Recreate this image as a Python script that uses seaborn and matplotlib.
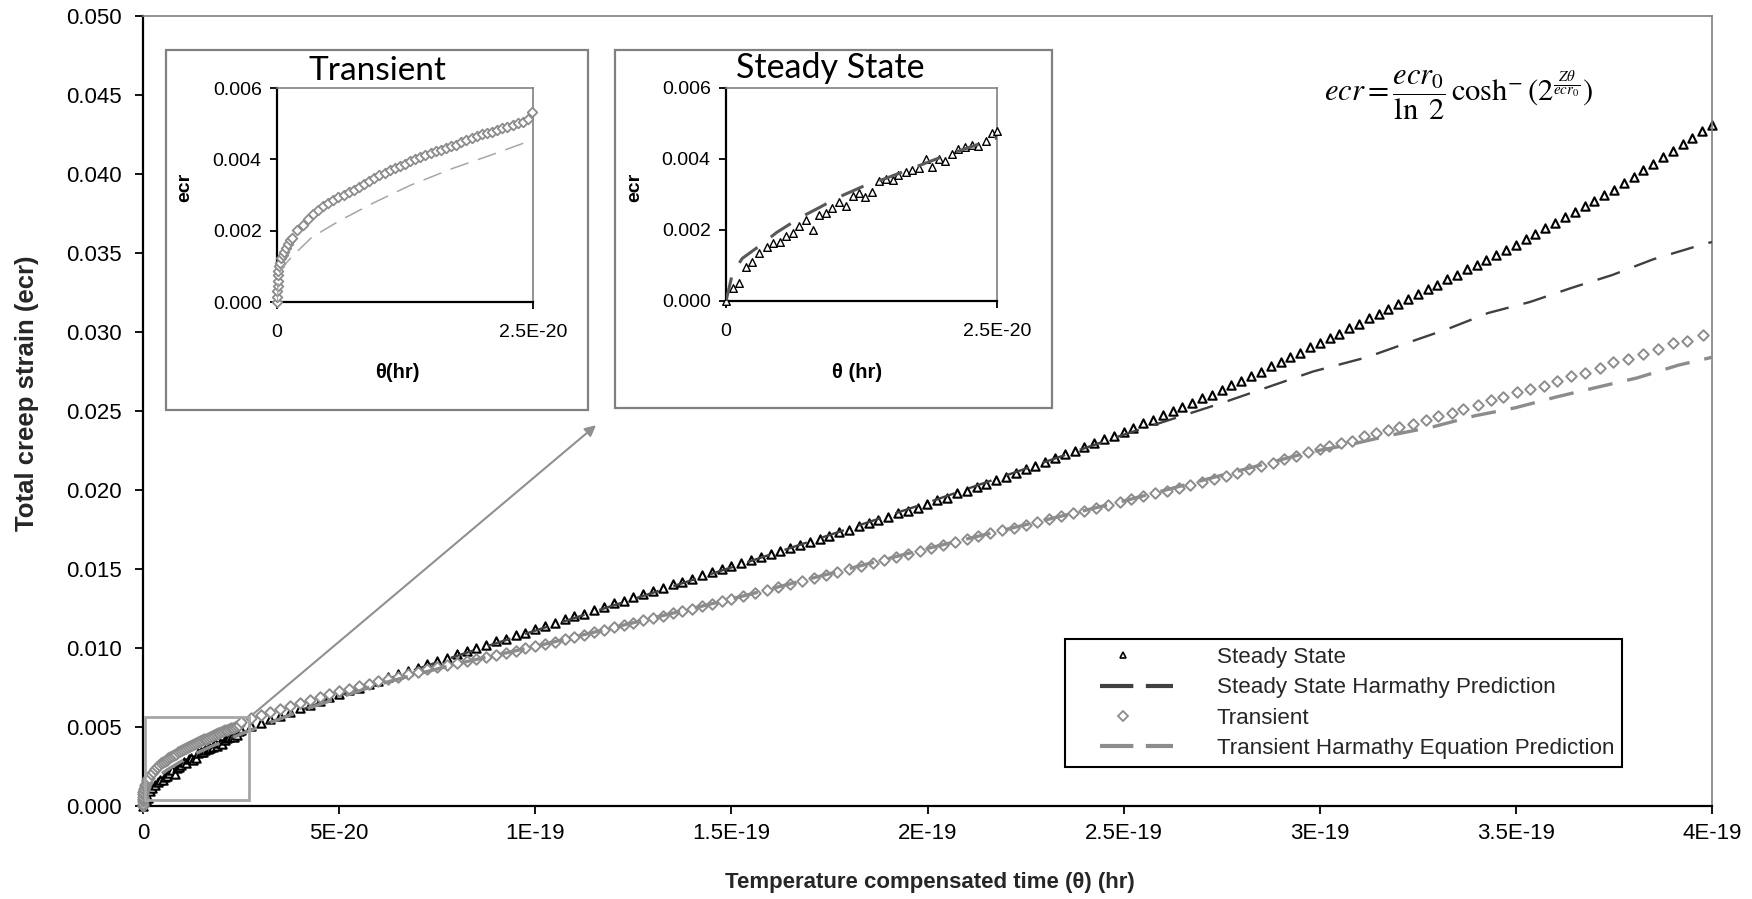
import numpy as np
import pandas as pd
import matplotlib
matplotlib.use("Agg")
import matplotlib.pyplot as plt
import matplotlib.ticker as mticker
from matplotlib.patches import Rectangle
from matplotlib.lines import Line2D
from matplotlib.legend_handler import HandlerLine2D
import seaborn as sns

sns.set_theme(style="ticks")
plt.rcParams['font.family'] = ['Liberation Sans', 'DejaVu Sans']
plt.rcParams['mathtext.fontset'] = 'stix'

THETA_UNIT = 1e-21   # values below are in 1e-21 hr
STRAIN_UNIT = 1e-3   # values below are in 1e-3 strain

# ---------------- data ----------------
steady_theta = [0, 0.68, 1.23, 1.84, 2.36, 3.07, 3.75, 4.30, 4.98, 5.50, 6.14, 6.70, 7.37, 8.05,
                8.57, 9.21, 9.77, 10.44, 11.06, 11.67, 12.29, 12.84, 13.51, 14.07, 14.74, 15.36,
                15.91, 16.58, 17.14, 17.81, 18.43, 18.98, 19.66, 20.21, 20.82, 21.44, 22.05, 22.73,
                23.28, 23.96, 24.51,
                25, 27.5, 30, 32.5, 35, 37.5, 40, 42.5, 45, 47.5, 50, 52.5, 55, 57.5, 60, 62.5, 65,
                67.5, 70, 72.5, 75, 77.5, 80, 82.5, 85, 87.5, 90, 92.5, 95, 97.5, 100, 102.5, 105,
                107.5, 110, 112.5, 115, 117.5, 120, 122.5, 125, 127.5, 130, 132.5, 135, 137.5, 140,
                142.5, 145, 147.5, 150, 152.5, 155, 157.5, 160, 162.5, 165, 167.5, 170, 172.5, 175,
                177.5, 180, 182.5, 185, 187.5, 190, 192.5, 195, 197.5, 200, 202.5, 205, 207.5, 210,
                212.5, 215, 217.5, 220, 222.5, 225, 227.5, 230, 232.5, 235, 237.5, 240, 242.5, 245,
                247.5, 250, 252.5, 255, 257.5, 260, 262.5, 265, 267.5, 270, 272.5, 275, 277.5, 280,
                282.5, 285, 287.5, 290, 292.5, 295, 297.5, 300, 302.5, 305, 307.5, 310, 312.5, 315,
                317.5, 320, 322.5, 325, 327.5, 330, 332.5, 335, 337.5, 340, 342.5, 345, 347.5, 350,
                352.5, 355, 357.5, 360, 362.5, 365, 367.5, 370, 372.5, 375, 377.5, 380, 382.5, 385,
                387.5, 390, 392.5, 395, 397.5, 400]
steady_ecr = [0, 0.36, 0.50, 0.97, 1.11, 1.34, 1.51, 1.63, 1.67, 1.83, 1.91, 2.10, 2.27, 2.00,
              2.43, 2.47, 2.62, 2.78, 2.69, 2.96, 3.04, 2.94, 3.06, 3.37, 3.43, 3.41,
              3.56, 3.62, 3.68, 3.74, 4.00, 3.77, 4.00, 3.93, 4.15, 4.28, 4.34, 4.40,
              4.36, 4.52, 4.73,
              4.80, 5.05, 5.25, 5.50, 5.72, 5.93, 6.20, 6.40, 6.62, 6.88,
              7.10, 7.33, 7.50, 7.74, 7.92, 8.15, 8.33, 8.55, 8.76, 8.97,
              9.20, 9.38, 9.62, 9.80, 10.02, 10.18, 10.42, 10.58, 10.82, 10.98,
              11.20, 11.42, 11.58, 11.82, 12.00, 12.18, 12.42, 12.58, 12.82, 12.98,
              13.20, 13.40, 13.62, 13.78, 14.02, 14.20, 14.38, 14.62, 14.80, 14.98,
              15.20, 15.38, 15.60, 15.75, 15.98, 16.15, 16.35, 16.52, 16.74, 16.90,
              17.10, 17.32, 17.48, 17.72, 17.88, 18.12, 18.28, 18.52, 18.70, 18.88,
              19.10, 19.34, 19.52, 19.78, 19.96, 20.20, 20.40, 20.64, 20.84, 21.06,
              21.30, 21.52, 21.80, 22.00, 22.26, 22.48, 22.74, 22.96, 23.22, 23.44,
              23.70, 23.94, 24.24, 24.46, 24.74, 24.98, 25.28, 25.50, 25.80, 26.04,
              26.30, 26.62, 26.88, 27.22, 27.48, 27.82, 28.08, 28.42, 28.68, 29.02,
              29.30, 29.62, 29.90, 30.24, 30.52, 30.86, 31.14, 31.48, 31.76, 32.10,
              32.40, 32.72, 33.00, 33.34, 33.62, 33.96, 34.24, 34.58, 34.86, 35.20,
              35.50, 35.86, 36.18, 36.56, 36.88, 37.26, 37.58, 37.96, 38.28, 38.66,
              39.00, 39.42, 39.80, 40.24, 40.62, 41.06, 41.44, 41.88, 42.26, 42.70,
              43.10]

steady_pred_theta = [0, 0.6, 1.5, 3.3, 4.67, 6.9, 8.35, 10.5, 12.65, 14.8, 20.0, 25.4, 50, 75, 100,
                     150, 200, 250, 275, 298.3, 312.0, 322.2, 332.7, 342.9, 353.6, 364.3, 374.5,
                     385.0, 395.7, 400]
steady_pred_ecr = [0, 0.78, 1.20, 1.60, 1.93, 2.36, 2.59, 2.94, 3.23, 3.46, 4.07, 4.64, 7.00, 9.10,
                   11.10, 15.10, 19.20, 23.50, 25.50, 27.50, 28.40, 29.30, 30.20, 31.20, 31.90,
                   32.80, 33.60, 34.60, 35.40, 35.70]

transient_theta = [0, 0.02, 0.04, 0.05, 0.07, 0.09, 0.12, 0.16, 0.25, 0.40, 0.55, 0.70, 0.90, 1.10,
                   1.30, 1.5, 2.0, 2.5, 3.0, 3.5, 4.0, 4.5, 5.0, 5.5, 6.0, 6.5, 7.0, 7.5, 8.0, 8.5,
                   9.0, 9.5, 10.0, 10.5, 11.0, 11.5, 12.0, 12.5, 13.0, 13.5, 14.0, 14.5, 15.0, 15.5,
                   16.0, 16.5, 17.0, 17.5, 18.0, 18.5, 19.0, 19.5, 20.0, 20.5, 21.0, 21.5, 22.0,
                   22.5, 23.0, 23.5, 24.0, 24.5, 24.9,
                   27.5, 30, 32.5, 35, 37.5, 40, 42.5, 45, 47.5, 50, 52.5, 55, 57.5, 60, 62.5, 65,
                   67.5, 70, 72.5, 75, 77.5, 80, 82.5, 85, 87.5, 90, 92.5, 95, 97.5, 100, 102.5, 105,
                   107.5, 110, 112.5, 115, 117.5, 120, 122.5, 125, 127.5, 130, 132.5, 135, 137.5,
                   140, 142.5, 145, 147.5, 150, 153, 156, 159, 162, 165, 168, 171, 174, 177, 180,
                   183, 186, 189, 192, 195, 198, 201, 204, 207, 210, 213, 216, 219, 222, 225, 228,
                   231, 234, 237, 240, 243, 246, 249, 252, 255, 258, 261, 264, 267, 270, 273, 276,
                   279, 282, 285, 288, 291, 294, 297, 300, 302.4, 305.4, 308.2, 311.3, 314.4, 317.4,
                   320.2, 323.7, 327.1, 330.1, 333.7, 336.5, 340.3, 343.6, 346.7, 350.2, 353.6,
                   357.1, 360.5, 364.0, 367.6, 371.4, 374.8, 378.6, 382.4, 386.2, 390.0, 393.6,
                   397.7]
transient_ecr = [0, 0.15, 0.30, 0.45, 0.60, 0.75, 0.88, 1.00, 1.10, 1.22, 1.32, 1.40, 1.52, 1.63,
                 1.75, 1.80, 2.03, 2.17, 2.33, 2.46, 2.58, 2.69, 2.78, 2.87, 2.93, 3.01, 3.08, 3.15,
                 3.22, 3.30, 3.40, 3.48, 3.55, 3.62, 3.69, 3.75, 3.81, 3.87, 3.94, 4.00, 4.06, 4.12,
                 4.17, 4.22, 4.27, 4.31, 4.36, 4.41, 4.48, 4.55, 4.60, 4.65, 4.70, 4.73, 4.78, 4.82,
                 4.87, 4.91, 4.96, 5.01, 5.06, 5.12, 5.32,
                 5.56, 5.78, 5.98, 6.17, 6.36, 6.54, 6.72, 6.90, 7.08, 7.25,
                 7.41, 7.57, 7.73, 7.88, 8.04, 8.19, 8.34, 8.50, 8.65, 8.80,
                 8.93, 9.06, 9.19, 9.32, 9.45, 9.58, 9.71, 9.84, 9.97, 10.10,
                 10.25, 10.40, 10.55, 10.70, 10.85, 11.00, 11.15, 11.30, 11.45, 11.60,
                 11.75, 11.90, 12.05, 12.20, 12.35, 12.50, 12.65, 12.80, 12.95, 13.10,
                 13.29, 13.48, 13.68, 13.87, 14.06, 14.25, 14.44, 14.63,
                 14.83, 15.02, 15.21, 15.40, 15.60, 15.79, 15.98, 16.17,
                 16.36, 16.54, 16.72, 16.90, 17.08, 17.26, 17.44, 17.62, 17.80,
                 17.98, 18.16, 18.34, 18.52, 18.70, 18.88, 19.06, 19.24,
                 19.42, 19.60, 19.78, 19.96, 20.14, 20.32, 20.50, 20.68,
                 20.87, 21.08, 21.30, 21.52, 21.74, 21.96, 22.18, 22.40, 22.62,
                 22.8, 23.0, 23.1, 23.4, 23.6, 23.8, 24.0, 24.2, 24.4, 24.7, 24.9, 25.1, 25.4,
                 25.7, 25.9, 26.2, 26.4, 26.6, 26.9, 27.2, 27.4, 27.7, 28.1, 28.3, 28.6, 28.9,
                 29.3, 29.4, 29.8]

transient_pred_theta = [0, 0.1, 0.3, 0.98, 1.63, 3.42, 6.18, 9.44, 13.0, 17.1, 21.0, 24.8, 40, 60,
                        80, 100, 150, 200, 250, 297.5, 308.2, 318.7, 328.9, 339.6, 349.8, 360.5,
                        370.7, 381.0, 391.4, 400]
transient_pred_ecr = [0, 0.55, 0.85, 1.12, 1.32, 1.82, 2.29, 2.78, 3.27, 3.74, 4.13, 4.53, 6.00,
                      7.70, 9.00, 10.10, 13.10, 16.30, 19.30, 22.40, 22.90, 23.50, 24.00, 24.70,
                      25.20, 25.90, 26.50, 27.10, 27.90, 28.40]

main_xticks = [0, 5e-20, 1e-19, 1.5e-19, 2e-19, 2.5e-19, 3e-19, 3.5e-19, 4e-19]
main_xticklabels = ["0", "5E-20", "1E-19", "1.5E-19", "2E-19", "2.5E-19", "3E-19", "3.5E-19", "4E-19"]
main_yticks = [0, 0.005, 0.010, 0.015, 0.020, 0.025, 0.030, 0.035, 0.040, 0.045, 0.050]
inset_xticks = [0, 2.5e-20]
inset_xticklabels = ["0", "2.5E-20"]
inset_yticks = [0, 0.002, 0.004, 0.006]

legend_labels = ["Steady State", "Steady State Harmathy Prediction", "Transient",
                 "Transient Harmathy Equation Prediction"]


def frame(theta, ecr):
    return pd.DataFrame({"theta": np.asarray(theta) * THETA_UNIT,
                         "ecr": np.asarray(ecr) * STRAIN_UNIT})


ss = frame(steady_theta, steady_ecr)
ssp = frame(steady_pred_theta, steady_pred_ecr)
tr = frame(transient_theta, transient_ecr)
trp = frame(transient_pred_theta, transient_pred_ecr)

BLACK = "#000000"
DARK = "#404040"
GREY = "#8c8c8c"
W, H = 1752, 899

fig = plt.figure(figsize=(W / 100, H / 100), dpi=100, facecolor="white")


def fx(px):
    return px / W


def fy(py):
    return 1 - py / H


# ---------------- main axes ----------------
ax = fig.add_axes([fx(143), fy(806), (1712 - 143) / W, (806 - 16) / H], zorder=0)
ax.set_facecolor("white")

sns.scatterplot(data=ss, x="theta", y="ecr", marker="^", s=36, facecolor="white",
                edgecolor=BLACK, linewidth=1.5, ax=ax, zorder=2, clip_on=False, legend=False)
sns.lineplot(data=ssp, x="theta", y="ecr", color=DARK, linewidth=1.7,
             linestyle=(0, (10, 6.5)), sort=False, estimator=None, ax=ax, zorder=3, legend=False)
sns.scatterplot(data=tr, x="theta", y="ecr", marker="D", s=29, facecolor="white",
                edgecolor=GREY, linewidth=1.4, ax=ax, zorder=4, clip_on=False, legend=False)
sns.lineplot(data=trp, x="theta", y="ecr", color=GREY, linewidth=2.4,
             linestyle=(0, (7.5, 4.5)), sort=False, estimator=None, ax=ax, zorder=5, legend=False)

ax.set_xlim(0, 4e-19)
ax.set_ylim(0, 0.05)
ax.set_xticks(main_xticks)
ax.set_xticklabels(main_xticklabels)
ax.set_yticks(main_yticks)
ax.yaxis.set_major_formatter(mticker.FormatStrFormatter("%.3f"))
ax.tick_params(axis="both", which="major", direction="out", length=6, width=1.3,
               color=BLACK, labelsize=16, labelcolor=BLACK)
ax.tick_params(axis="x", pad=6)
ax.tick_params(axis="y", pad=9)
for side in ["left", "bottom"]:
    ax.spines[side].set_color(BLACK)
    ax.spines[side].set_linewidth(1.6)
for side in ["top", "right"]:
    ax.spines[side].set_color("#808080")
    ax.spines[side].set_linewidth(1.2)

ax.set_xlabel("Temperature compensated time (θ) (hr)", fontsize=16, fontweight="bold")
ax.set_ylabel("Total creep strain (ecr)", fontsize=18.5, fontweight="bold")
ax.xaxis.set_label_coords(0.5016, -0.083)
ax.yaxis.set_label_coords(-0.0665, 0.522)

# zoom rectangle and arrow
ax.add_patch(Rectangle((5e-22, 0.00038), 2.65e-20, 0.00525, fill=False,
                       edgecolor="#a6a6a6", linewidth=2.0, zorder=6, clip_on=False))
ax.annotate("", xy=(1.155e-19, 0.0241), xytext=(2.8e-20, 0.0058),
            arrowprops=dict(arrowstyle="-|>", color="#909090", lw=1.5, mutation_scale=16,
                            shrinkA=0, shrinkB=0),
            zorder=6)

h_ss = Line2D([], [], marker="^", ls="none", mfc="white", mec=BLACK, ms=5, mew=1.2)
h_ssp = Line2D([], [], color=DARK, lw=3, ls=(0, (8, 3)))
h_tr = Line2D([], [], marker="D", ls="none", mfc="white", mec=GREY, ms=5.5, mew=1.3)
h_trp = Line2D([], [], color=GREY, lw=3, ls=(0, (8, 3)))
leg = ax.legend(handles=[h_ss, h_ssp, h_tr, h_trp], labels=legend_labels, loc="upper left",
                bbox_to_anchor=(0.5876, 0.2111), borderaxespad=0, frameon=True,
                fancybox=False, edgecolor=BLACK, framealpha=1, fontsize=16.1,
                handlelength=4.5, handletextpad=1.95, labelspacing=0.42, borderpad=0.35,
                handler_map={h_ss: HandlerLine2D(xpad=0.0), h_tr: HandlerLine2D(xpad=0.0),
                             h_ssp: HandlerLine2D(xpad=1.2), h_trp: HandlerLine2D(xpad=1.2)})
leg.get_frame().set_linewidth(1.5)

# equation
fig.text(fx(1458), fy(95), r"$ecr=\dfrac{ecr_0}{\ln\ 2}\,\cosh^{-}(2^{\frac{Z\theta}{ecr_0}})$",
         ha="center", va="center", fontsize=22, color=BLACK)

# ---------------- insets ----------------
for (l, t, r, b) in [(166, 50, 588, 410), (615, 50, 1052, 408)]:
    fig.add_artist(Rectangle((fx(l), fy(b)), (r - l) / W, (b - t) / H,
                             transform=fig.transFigure, facecolor="white",
                             edgecolor="#808080", linewidth=1.6, zorder=4))


def style_inset(a):
    a.set_facecolor("white")
    a.set_xlim(0, 2.5e-20)
    a.set_ylim(0, 0.006)
    a.set_xticks(inset_xticks)
    a.set_xticklabels(inset_xticklabels)
    a.set_yticks(inset_yticks)
    a.yaxis.set_major_formatter(mticker.FormatStrFormatter("%.3f"))
    a.tick_params(axis="both", direction="out", length=5, width=1.3, labelsize=14,
                  color=BLACK, labelcolor=BLACK)
    a.tick_params(axis="x", pad=11)
    a.tick_params(axis="y", pad=6)
    for side in ["left", "bottom"]:
        a.spines[side].set_color(BLACK)
        a.spines[side].set_linewidth(1.6)
    for side in ["top", "right"]:
        a.spines[side].set_color("#808080")
        a.spines[side].set_linewidth(1.2)
    a.set_xlabel("")
    a.set_ylabel("")


ins1 = fig.add_axes([fx(277), fy(302), (533 - 277) / W, (302 - 88) / H], zorder=5)
tr_in = tr[tr["theta"] <= 2.5e-20]
trp_in = trp[trp["theta"] <= 2.6e-20]
sns.scatterplot(data=tr_in, x="theta", y="ecr", marker="D", s=24, facecolor="white",
                edgecolor=GREY, linewidth=1.3, ax=ins1, zorder=3, clip_on=False, legend=False)
sns.lineplot(data=trp_in, x="theta", y="ecr", color="#a6a6a6", linewidth=1.1,
             linestyle=(0, (12.5, 6.5)), sort=False, estimator=None, ax=ins1, zorder=4, legend=False)
style_inset(ins1)

ins2 = fig.add_axes([fx(726), fy(301), (997 - 726) / W, (301 - 88) / H], zorder=5)
ss_in = ss[ss["theta"] <= 2.5e-20]
ssp_in = ssp[ssp["theta"] <= 2.6e-20]
sns.scatterplot(data=ss_in, x="theta", y="ecr", marker="^", s=30, facecolor="white",
                edgecolor=BLACK, linewidth=1.0, ax=ins2, zorder=3, clip_on=False, legend=False)
sns.lineplot(data=ssp_in, x="theta", y="ecr", color="#595959", linewidth=2.2,
             linestyle=(0, (7.9, 5.5)), sort=False, estimator=None, ax=ins2, zorder=4, legend=False)
style_inset(ins2)

title_font = ["Lato", "DejaVu Sans"]
ins1.text(fx(377), fy(71), "Transient", transform=fig.transFigure, ha="center", va="center",
          fontsize=24, family=title_font, color=BLACK)
ins2.text(fx(830), fy(68), "Steady State", transform=fig.transFigure, ha="center", va="center",
          fontsize=24.5, family=title_font, color=BLACK)
ins1.text(fx(185), fy(187), "ecr", transform=fig.transFigure, ha="center", va="center",
          rotation=90, fontsize=14, fontweight="bold", color=BLACK)
ins2.text(fx(635), fy(187), "ecr", transform=fig.transFigure, ha="center", va="center",
          rotation=90, fontsize=14, fontweight="bold", color=BLACK)
ins1.text(fx(397), fy(373), "θ(hr)", transform=fig.transFigure, ha="center", va="center",
          fontsize=14.5, fontweight="bold", color=BLACK)
ins2.text(fx(857), fy(372), "θ (hr)", transform=fig.transFigure, ha="center", va="center",
          fontsize=14.5, fontweight="bold", color=BLACK)

fig.savefig("out.png", dpi=100, facecolor="white")
